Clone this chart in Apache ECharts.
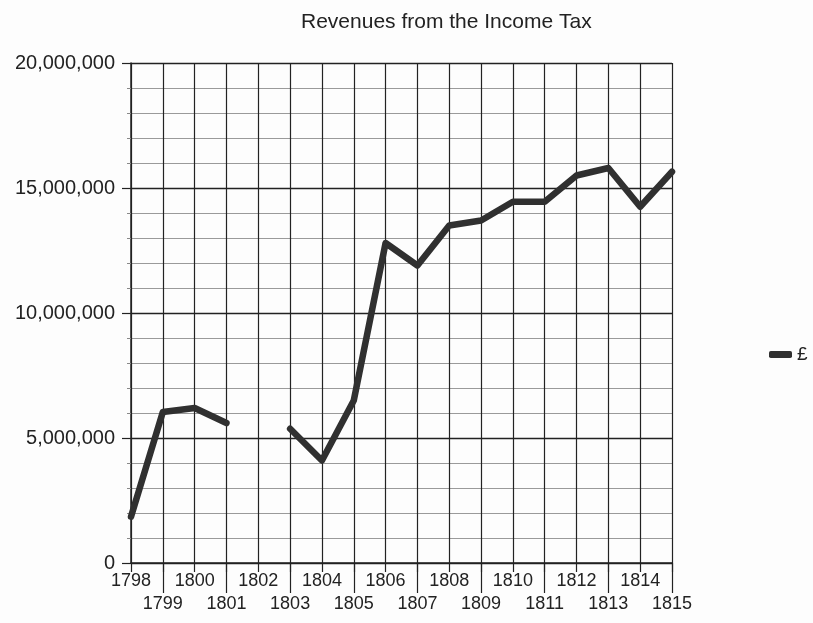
<!DOCTYPE html>
<html>
<head>
<meta charset="utf-8">
<title>Revenues from the Income Tax</title>
<script src="https://cdn.jsdelivr.net/npm/echarts@6/dist/echarts.min.js"></script>
<style>
  html, body { margin: 0; padding: 0; background: #fdfdfd; }
  #chart { width: 813px; height: 623px; }
</style>
</head>
<body>
<div id="chart"></div>
<script>
// Income tax revenue by year (pounds); no tax collected in 1802
const years = ['1798','1799','1800','1801','1802','1803','1804','1805','1806',
               '1807','1808','1809','1810','1811','1812','1813','1814','1815'];
const revenue = [1850000, 6040000, 6200000, 5600000, null, 5370000, 4100000, 6500000, 12800000,
                 11900000, 13500000, 13700000, 14450000, 14450000, 15500000, 15800000, 14250000, 15650000];
const seriesName = '£';
const yTicks = [0, 5000000, 10000000, 15000000, 20000000];

const FONT = '"Liberation Sans", Arial, sans-serif';
const INK = '#222';

function withCommas(v) {
  return String(v).replace(/\B(?=(\d{3})+(?!\d))/g, ',');
}

const chart = echarts.init(document.getElementById('chart'), null, { renderer: 'canvas' });

chart.setOption({
  backgroundColor: '#fdfdfd',
  animation: false,
  title: {
    text: 'Revenues from the Income Tax',
    left: 296,
    top: 7,
    textStyle: { fontFamily: FONT, fontSize: 21, fontWeight: 'normal', color: INK }
  },
  legend: {
    orient: 'vertical',
    left: 764,
    top: 340,
    icon: 'roundRect',
    itemWidth: 23,
    itemHeight: 7,
    itemGap: 6,
    textStyle: { fontFamily: FONT, fontSize: 19, color: INK },
    data: [seriesName]
  },
  grid: { left: 131, right: 141, top: 63, bottom: 60, containLabel: false },
  xAxis: [
    {
      // even years on the first row, a gridline at every year
      type: 'category',
      data: years,
      boundaryGap: false,
      position: 'bottom',
      axisLine: { show: true, lineStyle: { color: INK, width: 1.5 } },
      axisTick: { show: true, interval: 0, length: 9, lineStyle: { color: INK, width: 1.2 } },
      axisLabel: {
        interval: (i) => i % 2 === 0,
        margin: 9,
        fontFamily: FONT, fontSize: 18, color: INK
      },
      splitLine: { show: true, interval: 0, lineStyle: { color: INK, width: 1.2 } }
    },
    {
      // odd years staggered onto a second row with long ticks
      type: 'category',
      data: years,
      boundaryGap: false,
      position: 'bottom',
      axisLine: { show: false },
      axisTick: {
        show: true,
        interval: (i) => i % 2 === 1,
        length: 30,
        lineStyle: { color: INK, width: 1.2 }
      },
      axisLabel: {
        interval: (i) => i % 2 === 1,
        margin: 32,
        fontFamily: FONT, fontSize: 18, color: INK
      },
      splitLine: { show: false }
    }
  ],
  yAxis: {
    type: 'value',
    min: yTicks[0],
    max: yTicks[yTicks.length - 1],
    interval: 5000000,
    axisLine: { show: true, lineStyle: { color: INK, width: 1.5 } },
    axisTick: { show: true, length: 9, lineStyle: { color: INK, width: 1.2 } },
    minorTick: { show: true, splitNumber: 5, length: 4, lineStyle: { color: '#888', width: 1 } },
    axisLabel: {
      margin: 16,
      fontFamily: FONT, fontSize: 20, color: INK,
      formatter: (v) => withCommas(v)
    },
    splitLine: { show: true, lineStyle: { color: INK, width: 1.4 } },
    minorSplitLine: { show: true, lineStyle: { color: '#9a9a9a', width: 1.2 } }
  },
  series: [
    {
      name: seriesName,
      type: 'line',
      xAxisIndex: 0,
      data: revenue,
      connectNulls: false,
      symbol: 'none',
      showSymbol: false,
      color: '#303030',
      lineStyle: { color: '#303030', width: 6.5, join: 'round', cap: 'round' },
      z: 5
    }
  ]
});
</script>
</body>
</html>
